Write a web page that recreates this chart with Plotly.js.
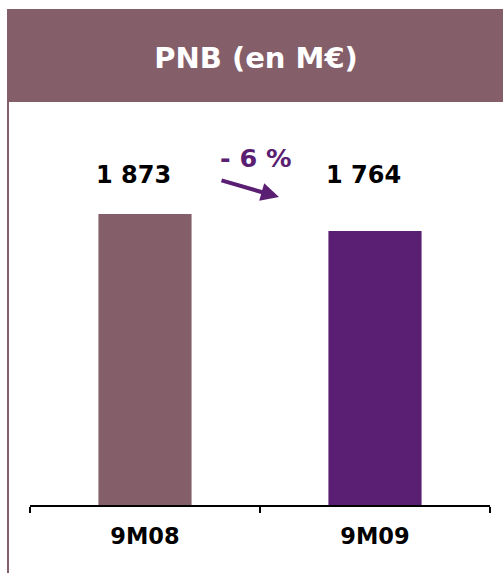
<!DOCTYPE html>
<html>
<head>
<meta charset="utf-8">
<script src="https://cdn.plot.ly/plotly-3.0.1.min.js"></script>
<style>html,body{margin:0;padding:0;background:#fff;}#chart{width:503px;height:573px;}</style>
</head>
<body>
<div id="chart"></div>
<script>
const categories = ["9M08", "9M09"];
const values = [1873, 1764];
const valueLabels = ["1 873", "1 764"];
const barColors = ["#845E69", "#5A1E72"];
const changeLabel = "- 6 %";
const titleText = "PNB (en M€)";

const FONT = "DejaVu Sans, Verdana, sans-serif";
const W = 503, H = 573, L = 30, R = 13, T = 9, B = 68;
const pw = W - L - R, ph = H - T - B;
const px = x => (x - L) / pw;
const py = y => (H - B - y) / ph;

const trace = {
  type: "bar",
  x: categories,
  y: values,
  width: 0.405,
  marker: { color: barColors, line: { width: 0 } },
  hoverinfo: "none"
};

const annotations = categories.map((c, i) => ({
  x: c, xref: "x", y: py(175), yref: "paper",
  text: "<b>" + valueLabels[i] + "</b>",
  showarrow: false, xanchor: "center", yanchor: "middle", xshift: -12,
  font: { family: FONT, size: 24, color: "#000" }
}));
annotations.push({
  x: px(256), xref: "paper", y: py(158), yref: "paper",
  text: "<b>" + changeLabel + "</b>", showarrow: false,
  xanchor: "center", yanchor: "middle",
  font: { family: FONT, size: 25.5, color: "#5A1E72" }
});
annotations.push({
  x: px(279), xref: "paper", y: py(197), yref: "paper",
  text: "", showarrow: true, axref: "pixel", ayref: "pixel",
  ax: -59, ay: -17, arrowcolor: "#5A1E72", arrowwidth: 4,
  arrowhead: 2, arrowsize: 0.9, standoff: 0, startstandoff: 0
});

const layout = {
  width: W, height: H,
  margin: { l: L, r: R, t: T, b: B },
  paper_bgcolor: "#fff", plot_bgcolor: "rgba(0,0,0,0)",
  showlegend: false,
  title: {
    text: "<b>" + titleText + "</b>",
    x: 256 / W, xanchor: "center", y: 1 - 58 / H, yanchor: "middle",
    xref: "container", yref: "container",
    font: { family: FONT, size: 29, color: "#fff" }
  },
  xaxis: {
    type: "category", range: [-0.5, 1.5], fixedrange: true,
    showline: true, linecolor: "#000", linewidth: 1.5,
    ticks: "outside", tickson: "boundaries", ticklen: 6, tickwidth: 1.5, tickcolor: "#000",
    showgrid: false, zeroline: false,
    tickfont: { family: FONT, size: 22.5, color: "#000", weight: "bold" },
    ticklabelstandoff: 10
  },
  yaxis: {
    range: [0, 1873 * ph / 291], visible: false, fixedrange: true
  },
  shapes: [
    { type: "rect", xref: "paper", yref: "paper", x0: px(7), x1: px(503), y0: py(102), y1: py(9),
      fillcolor: "#845E69", line: { width: 0 }, layer: "below" },
    { type: "line", xref: "paper", yref: "paper", x0: px(8), x1: px(8), y0: py(102), y1: py(573),
      line: { color: "#845E69", width: 2 } }
  ],
  annotations: annotations
};

Plotly.newPlot("chart", [trace], layout, { staticPlot: true, displayModeBar: false });
</script>
</body>
</html>
